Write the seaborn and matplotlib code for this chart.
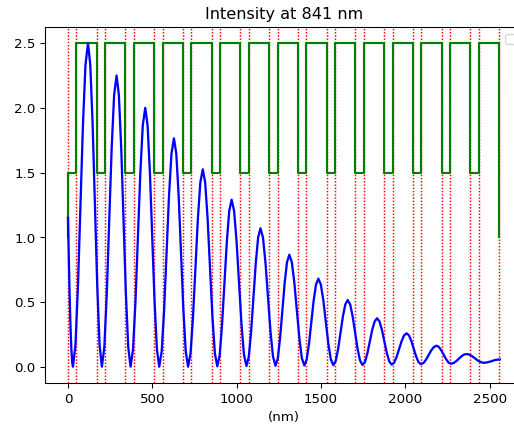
import numpy as np
import pandas as pd
import matplotlib
matplotlib.use("Agg")
import matplotlib.pyplot as plt
import seaborn as sns

# Layer stack: refractive index and thickness (nm) of each layer
layer_n = [1.5, 2.5] * 15
layer_d = [50.0, 120.4] * 15
ambient_n = 1.0

# Field intensity |E|^2 through the stack at 841 nm
depth_nm = [
    0, 5, 10, 15, 20, 25,
    29.6, 44.4, 59.3, 74.1, 88.9, 103.8,
    118.6, 132.3, 146.1, 159.8, 173.5, 187.3,
    201, 215.5, 230.0, 244.5, 259.0, 273.5,
    288, 301.8, 315.7, 329.5, 343.3, 357.2,
    371, 385.5, 400.0, 414.5, 429.0, 443.5,
    458, 471.8, 485.7, 499.5, 513.3, 527.2,
    541, 555.5, 570.0, 584.5, 599.0, 613.5,
    628, 642, 656, 670, 684, 698,
    712, 726.5, 741, 755.5, 770, 784.5,
    799, 813.3, 827.7, 842.0, 856.3, 870.7,
    885, 899.2, 913.3, 927.5, 941.7, 955.8,
    970, 984.7, 999.3, 1014, 1028.7, 1043.3,
    1058, 1071.8, 1085.7, 1099.5, 1113.3, 1127.2,
    1141, 1155.8, 1170.7, 1185.5, 1200.3, 1215.2,
    1230, 1243.7, 1257.3, 1271, 1284.7, 1298.3,
    1312, 1326.8, 1341.7, 1356.5, 1371.3, 1386.2,
    1401, 1414.8, 1428.7, 1442.5, 1456.3, 1470.2,
    1484, 1498.8, 1513.7, 1528.5, 1543.3, 1558.2,
    1573, 1587.2, 1601.3, 1615.5, 1629.7, 1643.8,
    1658, 1672.7, 1687.3, 1702, 1716.7, 1731.3,
    1746, 1760.3, 1774.7, 1789, 1803.3, 1817.7,
    1832, 1846.5, 1861, 1875.5, 1890, 1904.5,
    1919, 1933.7, 1948.3, 1963, 1977.7, 1992.3,
    2007, 2021.2, 2035.3, 2049.5, 2063.7, 2077.8,
    2092, 2107.3, 2122.7, 2138, 2153.3, 2168.7,
    2184, 2198.3, 2212.7, 2227, 2241.3, 2255.7,
    2270, 2285.3, 2300.7, 2316, 2331.3, 2346.7,
    2362, 2379, 2396, 2413, 2430, 2447,
    2464, 2479.8, 2495.7, 2511.5, 2527.3, 2543.2,
    2559,
]
intensity = [
    1.15, 0.83, 0.54, 0.31, 0.14, 0.034,
    0.0, 0.168, 0.625, 1.25, 1.875, 2.333,
    2.5, 2.333, 1.875, 1.25, 0.625, 0.168,
    0.0, 0.151, 0.563, 1.125, 1.688, 2.099,
    2.25, 2.099, 1.688, 1.125, 0.563, 0.151,
    0.0, 0.134, 0.5, 1.0, 1.5, 1.866,
    2.0, 1.866, 1.5, 1.0, 0.5, 0.134,
    0.0, 0.118, 0.441, 0.883, 1.324, 1.647,
    1.765, 1.647, 1.324, 0.883, 0.441, 0.118,
    0.0, 0.102, 0.381, 0.763, 1.144, 1.423,
    1.525, 1.423, 1.144, 0.764, 0.383, 0.105,
    0.003, 0.089, 0.325, 0.647, 0.968, 1.204,
    1.29, 1.204, 0.969, 0.647, 0.326, 0.091,
    0.005, 0.076, 0.271, 0.538, 0.804, 0.999,
    1.07, 0.999, 0.804, 0.538, 0.273, 0.078,
    0.007, 0.064, 0.222, 0.436, 0.651, 0.808,
    0.865, 0.808, 0.651, 0.437, 0.223, 0.066,
    0.009, 0.054, 0.177, 0.345, 0.512, 0.635,
    0.68, 0.635, 0.513, 0.345, 0.178, 0.056,
    0.011, 0.045, 0.137, 0.263, 0.389, 0.481,
    0.515, 0.481, 0.389, 0.264, 0.138, 0.047,
    0.013, 0.037, 0.103, 0.194, 0.284, 0.350,
    0.374, 0.350, 0.284, 0.195, 0.105, 0.040,
    0.016, 0.032, 0.077, 0.137, 0.198, 0.242,
    0.258, 0.242, 0.198, 0.138, 0.079, 0.035,
    0.019, 0.029, 0.055, 0.091, 0.126, 0.152,
    0.162, 0.153, 0.127, 0.092, 0.058, 0.032,
    0.023, 0.028, 0.042, 0.061, 0.079, 0.093,
    0.098, 0.093, 0.081, 0.064, 0.047, 0.035,
    0.03, 0.032, 0.037, 0.043, 0.050, 0.054,
    0.056,
]

wavelength_nm = 841

# Interface positions (nm)
interfaces = np.concatenate([[0.0], np.cumsum(layer_d)])

# Index profile as a step line: ambient at the entry face, layers, ambient at the exit face
profile = pd.DataFrame({
    "x": np.concatenate([[0.0], interfaces]),
    "n": [ambient_n] + layer_n + [ambient_n],
})
field = pd.DataFrame({"x": depth_nm, "I": intensity})

dpi = 96.4
fig = plt.figure(figsize=(514.3 / dpi, 431.3 / dpi), dpi=dpi)
ax = fig.add_axes([45 / 514, 48.1 / 431, 477 / 514, 355.6 / 431])

# interface markers sit underneath the curves
for xb in interfaces:
    ax.axvline(xb, color="r", linestyle=(0, (1, 1.2)), linewidth=1.1, zorder=1)
sns.lineplot(data=profile, x="x", y="n", ax=ax, color="g", linewidth=1.6,
             estimator=None, sort=False, drawstyle="steps-post", zorder=2)
sns.lineplot(data=field, x="x", y="I", ax=ax, color="b", linewidth=1.7,
             estimator=None, sort=False, zorder=3)

ax.set_xlim(-136, 2693)
ax.set_ylim(-0.125, 2.625)
ax.set_xticks([0, 500, 1000, 1500, 2000, 2500])
ax.set_yticks([0.0, 0.5, 1.0, 1.5, 2.0, 2.5])
ax.set_title(f"Intensity at {wavelength_nm} nm")
ax.set_xlabel("(nm)")
ax.set_ylabel("")
ax.legend(handles=[], loc="upper right")

fig.savefig("out.png", dpi=dpi)
